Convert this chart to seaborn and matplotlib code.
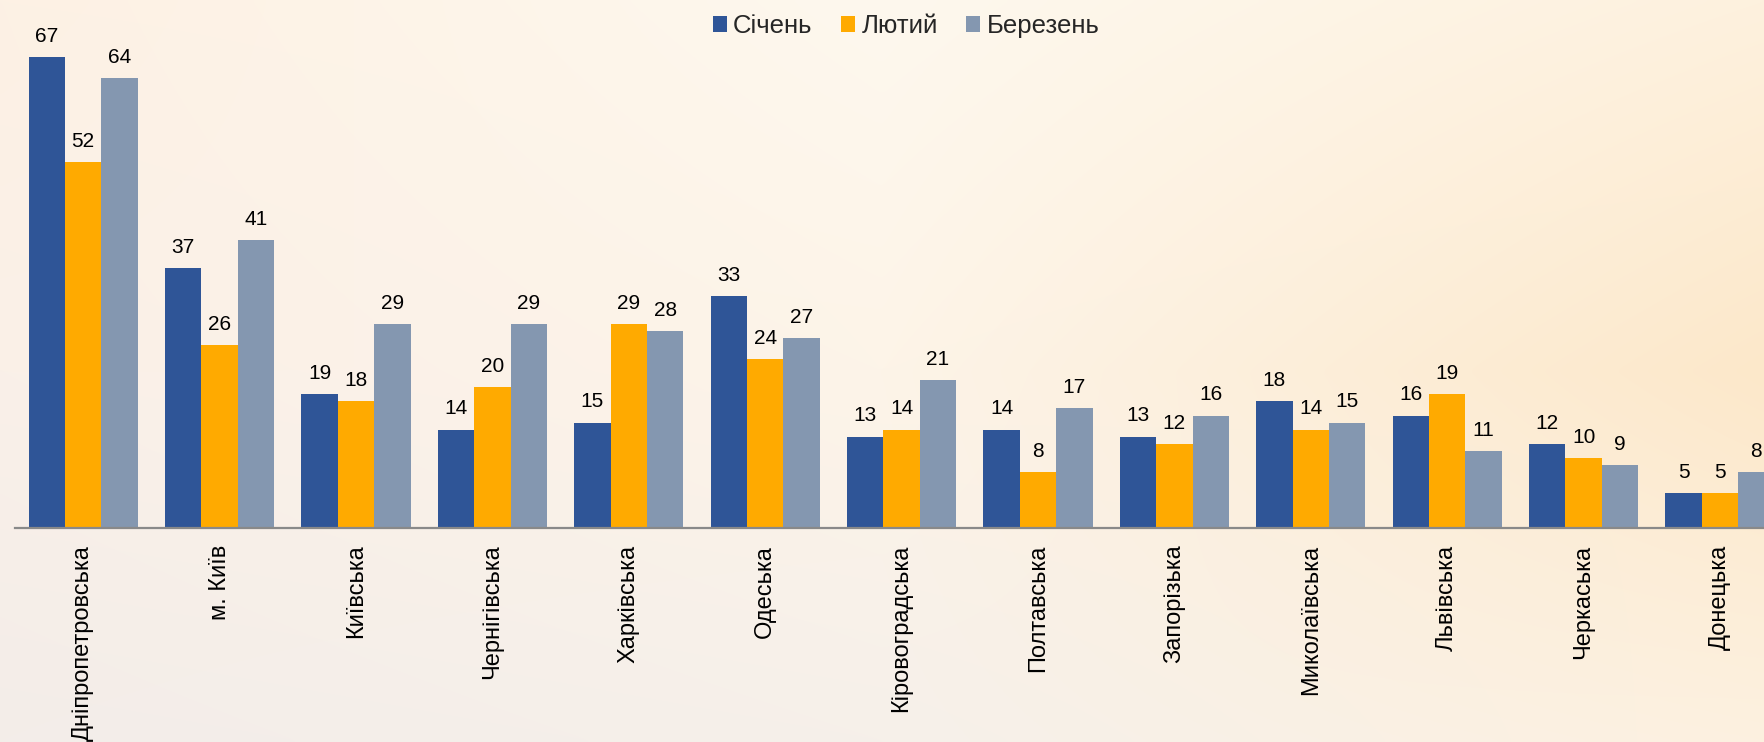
import numpy as np
import pandas as pd
import matplotlib
matplotlib.use("Agg")
import matplotlib.pyplot as plt
import seaborn as sns
from matplotlib.patches import Patch

regions = ["Дніпропетровська", "м. Київ", "Київська", "Чернігівська", "Харківська",
           "Одеська", "Кіровоградська", "Полтавська", "Запорізька", "Миколаївська",
           "Львівська", "Черкаська", "Донецька"]
months = ["Січень", "Лютий", "Березень"]
jan = [67, 37, 19, 14, 15, 33, 13, 14, 13, 18, 16, 12, 5]
feb = [52, 26, 18, 20, 29, 24, 14, 8, 12, 14, 19, 10, 5]
mar = [64, 41, 29, 29, 28, 27, 21, 17, 16, 15, 11, 9, 8]
colors = ["#2F5597", "#FFAA00", "#8497B0"]

df = pd.DataFrame({
    "region": regions * 3,
    "month": [months[0]] * len(regions) + [months[1]] * len(regions) + [months[2]] * len(regions),
    "value": jan + feb + mar,
})

sns.set_theme(style="white")
plt.rcParams["font.family"] = ["Liberation Sans", "DejaVu Sans"]

W, H, DPI = 1765, 742, 100
fig = plt.figure(figsize=(W / DPI, H / DPI), dpi=DPI)

# background gradient (styling only)
grid = np.array([
    [[253, 241, 228], [254, 248, 238], [254, 241, 222]],
    [[250, 240, 232], [253, 244, 232], [252, 232, 202]],
    [[243, 237, 233], [246, 240, 234], [253, 241, 224]],
], dtype=float) / 255.0
ny, nx = 200, 400
yy = np.linspace(0, 2, ny)[:, None]
xx = np.linspace(0, 2, nx)[None, :]
img = np.zeros((ny, nx, 3))
for c in range(3):
    g = grid[:, :, c]
    x0 = np.clip(np.floor(xx).astype(int), 0, 1)
    y0 = np.clip(np.floor(yy).astype(int), 0, 1)
    fx = xx - x0
    fy = yy - y0
    v00 = g[y0, x0]
    v01 = g[y0, x0 + 1]
    v10 = g[y0 + 1, x0]
    v11 = g[y0 + 1, x0 + 1]
    img[:, :, c] = (v00 * (1 - fx) * (1 - fy) + v01 * fx * (1 - fy)
                    + v10 * (1 - fx) * fy + v11 * fx * fy)
bg = fig.add_axes([0, 0, 1, 1], zorder=-10)
bg.imshow(img, aspect="auto", interpolation="bicubic")
bg.axis("off")

pitch = 136.4
left = 15 / W
width = 13 * pitch / W
base_y = 528
ax = fig.add_axes([left, (H - base_y) / H, width, base_y / H])
ax.set_facecolor("none")

sns.barplot(data=df, x="region", y="value", hue="month", order=regions,
            hue_order=months, palette=colors, saturation=1, width=0.8, gap=0,
            legend=False, ax=ax, edgecolor="none")

ax.set_xlim(-0.5, len(regions) - 0.5)
ax.set_ylim(0, base_y / 7.03)
for cont in ax.containers:
    ax.bar_label(cont, labels=[f"{int(round(b.get_height()))}" for b in cont],
                 padding=8, fontsize=15, color="black")

for s in ["top", "left", "right"]:
    ax.spines[s].set_visible(False)
ax.spines["bottom"].set_color("#898989")
ax.spines["bottom"].set_linewidth(1.6)
ax.set_yticks([])
ax.set_xlabel("")
ax.set_ylabel("")
ax.tick_params(axis="x", length=0, pad=12, labelsize=17, labelcolor="black")
plt.setp(ax.get_xticklabels(), rotation=90, va="top", ha="center")

handles = [Patch(facecolor=c, edgecolor="none") for c in colors]
fig.legend(handles, months, loc="center", bbox_to_anchor=(906 / W, 1 - 26 / H),
           ncol=3, frameon=False, fontsize=18.5, handlelength=0.55,
           handleheight=0.55, handletextpad=0.25, columnspacing=1.1)

fig.savefig("out.png", dpi=DPI)
